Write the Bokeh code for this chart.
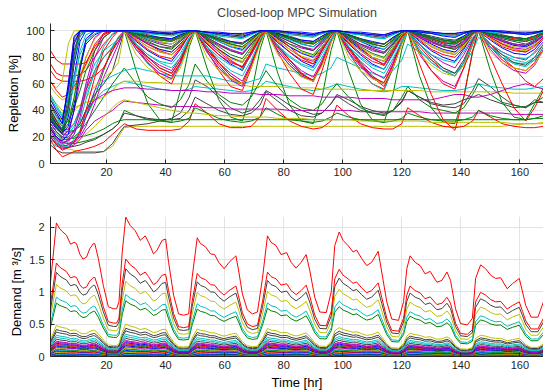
from bokeh.plotting import figure
from bokeh.layouts import column
from bokeh.models import Range1d, FixedTicker, CustomJSTickFormatter
from bokeh.embed import file_html
from bokeh.resources import INLINE

COL = {"b": "#0000ff", "g": "#008000", "r": "#ff0000", "c": "#00bfbf",
       "m": "#bf00bf", "y": "#bfbf00", "k": "#404040"}

# ---------------- Repletion (top panel) ----------------
knot_hours = [1, 3, 5, 7, 9, 11, 13, 16, 19, 22, 24,
              26, 30, 34, 38, 42, 45, 48,
              50, 54, 58, 62, 66, 69, 72,
              74, 78, 82, 86, 90, 93, 96,
              98, 102, 106, 110, 114, 117, 120,
              122, 126, 130, 134, 138, 141, 144,
              146, 150, 154, 158, 162, 165, 168]

rep_u1 = [45, 38, 30, 60, 95, 100, 100, 100, 100, 100, 100,
          100, 100, 99, 98, 98, 99, 100, 100, 99, 98, 97, 96, 98, 100,
          100, 100, 99, 98, 97, 99, 100, 100, 99, 98, 97, 96, 98, 100,
          100, 99, 98, 96, 95, 98, 100, 100, 100, 99, 98, 97, 98, 100]
rep_u2 = [40, 32, 26, 50, 92, 100, 100, 100, 100, 100, 100,
          100, 99, 97, 95, 94, 97, 100, 100, 98, 95, 92, 91, 95, 99,
          100, 98, 96, 93, 92, 96, 99, 100, 97, 94, 91, 90, 95, 99,
          100, 98, 96, 94, 93, 96, 100, 100, 99, 97, 95, 94, 96, 99]
rep_u3 = [36, 30, 24, 40, 75, 96, 100, 100, 100, 100, 100,
          100, 98, 96, 94, 93, 96, 100, 100, 96, 92, 88, 86, 92, 99,
          100, 97, 94, 90, 88, 93, 99, 100, 96, 92, 88, 86, 92, 98,
          100, 97, 94, 91, 90, 94, 99, 100, 98, 95, 93, 92, 94, 98]
rep_u4 = [50, 42, 35, 45, 65, 82, 92, 98, 100, 100, 100,
          100, 97, 94, 92, 90, 94, 99, 100, 96, 92, 88, 85, 91, 98,
          100, 97, 93, 90, 88, 93, 99, 100, 96, 92, 89, 86, 92, 98,
          100, 97, 94, 91, 89, 94, 99, 100, 97, 95, 93, 92, 94, 97]
rep_u5 = [61, 57, 62, 90, 100, 100, 100, 100, 100, 100, 100,
          100, 98, 95, 92, 90, 94, 99, 100, 97, 93, 89, 87, 92, 98,
          100, 98, 95, 92, 90, 94, 99, 100, 97, 94, 90, 88, 93, 98,
          100, 98, 95, 93, 91, 95, 99, 100, 98, 96, 94, 93, 95, 98]
rep_u6 = [32, 26, 22, 35, 65, 92, 100, 100, 100, 100, 100,
          100, 95, 90, 86, 84, 90, 98, 100, 93, 86, 80, 76, 86, 97,
          100, 94, 88, 83, 80, 88, 97, 100, 93, 86, 80, 77, 87, 97,
          100, 95, 90, 86, 84, 90, 98, 100, 96, 92, 89, 88, 91, 96]
rep_u7 = [85, 78, 75, 75, 75, 75, 76, 88, 97, 100, 100,
          100, 96, 90, 85, 82, 88, 97, 100, 94, 86, 78, 72, 82, 95,
          100, 95, 88, 80, 75, 85, 96, 100, 94, 87, 80, 74, 84, 95,
          100, 96, 92, 88, 86, 90, 97, 100, 95, 90, 86, 84, 88, 95]
rep_u8 = [38, 30, 25, 45, 85, 100, 100, 100, 100, 100, 100,
          100, 97, 93, 90, 88, 93, 99, 100, 95, 90, 85, 82, 90, 98,
          100, 96, 92, 88, 85, 92, 99, 100, 95, 90, 86, 83, 90, 98,
          100, 97, 93, 90, 88, 93, 99, 100, 97, 94, 92, 90, 93, 98]
rep_u9 = [34, 28, 24, 30, 50, 75, 92, 100, 100, 100, 100,
          100, 96, 92, 88, 86, 92, 99, 100, 94, 88, 82, 79, 88, 98,
          100, 95, 90, 85, 82, 90, 98, 100, 94, 88, 83, 80, 89, 98,
          100, 96, 92, 88, 86, 91, 98, 100, 96, 93, 90, 89, 92, 97]
rep_u10 = [30, 24, 20, 25, 40, 62, 80, 95, 100, 100, 100,
           100, 94, 88, 84, 82, 89, 98, 100, 92, 84, 77, 73, 84, 96,
           100, 93, 86, 80, 77, 87, 97, 100, 92, 85, 79, 75, 86, 96,
           100, 94, 88, 84, 82, 88, 97, 100, 95, 90, 87, 86, 89, 95]
rep_u11 = [48, 40, 33, 55, 90, 100, 100, 100, 100, 100, 100,
           100, 100, 100, 99, 99, 100, 100, 100, 99, 99, 98, 98, 99, 100,
           100, 100, 99, 99, 98, 99, 100, 100, 99, 99, 98, 97, 99, 100,
           100, 100, 99, 98, 98, 99, 100, 100, 100, 100, 99, 99, 99, 100]
rep_u12 = [42, 35, 28, 38, 60, 85, 97, 100, 100, 100, 100,
           100, 99, 98, 97, 96, 98, 100, 100, 98, 96, 95, 94, 97, 100,
           100, 99, 97, 96, 95, 98, 100, 100, 98, 97, 95, 94, 97, 100,
           100, 99, 98, 97, 96, 98, 100, 100, 99, 98, 98, 97, 98, 99]
rep_u13 = [62, 55, 50, 52, 58, 66, 75, 90, 98, 100, 100,
           100, 98, 95, 93, 92, 95, 99, 100, 97, 93, 90, 88, 93, 99,
           100, 98, 95, 92, 90, 94, 99, 100, 97, 93, 90, 88, 93, 99,
           100, 97, 94, 91, 90, 94, 99, 100, 98, 96, 94, 93, 95, 98]
rep_u14 = [44, 36, 30, 58, 96, 100, 100, 100, 100, 100, 100,
           100, 100, 99, 99, 98, 99, 100, 100, 99, 98, 98, 97, 99, 100,
           100, 99, 99, 98, 97, 99, 100, 100, 99, 98, 97, 97, 99, 100,
           100, 100, 99, 98, 98, 99, 100, 100, 100, 99, 99, 98, 99, 100]
rep_u15 = [45, 38, 32, 36, 48, 65, 80, 94, 100, 100, 100,
           100, 95, 90, 86, 84, 90, 98, 100, 93, 86, 80, 77, 86, 97,
           100, 94, 88, 84, 81, 88, 97, 100, 93, 87, 82, 79, 87, 97,
           100, 95, 89, 85, 83, 89, 98, 100, 95, 91, 88, 87, 90, 95]
rep_u16 = [26, 20, 17, 22, 40, 70, 94, 100, 100, 100, 100,
           100, 98, 96, 95, 94, 97, 100, 100, 97, 94, 92, 90, 95, 99,
           100, 98, 95, 93, 92, 96, 100, 100, 97, 94, 92, 90, 95, 99,
           100, 98, 95, 93, 92, 96, 100, 100, 98, 96, 95, 94, 96, 99]
rep_u17 = [24, 18, 15, 18, 25, 40, 60, 85, 98, 100, 100,
           100, 97, 94, 91, 90, 94, 99, 100, 95, 90, 86, 83, 90, 98,
           100, 96, 92, 88, 86, 92, 99, 100, 95, 90, 87, 84, 91, 98,
           100, 96, 92, 89, 88, 92, 98, 100, 96, 93, 90, 89, 92, 97]
rep_u18 = [22, 17, 14, 16, 22, 32, 48, 70, 88, 98, 100,
           100, 90, 82, 76, 72, 80, 94, 100, 88, 78, 70, 66, 78, 93,
           100, 89, 80, 74, 70, 80, 93, 100, 88, 79, 72, 68, 79, 92,
           100, 85, 76, 70, 66, 76, 90, 100, 88, 80, 75, 73, 78, 88]
rep_u19 = [40, 33, 28, 32, 42, 55, 70, 85, 95, 100, 100,
           100, 97, 95, 93, 92, 95, 99, 100, 96, 93, 90, 88, 93, 99,
           100, 97, 94, 91, 90, 94, 99, 100, 96, 93, 90, 88, 93, 99,
           100, 97, 94, 92, 91, 94, 99, 100, 97, 95, 93, 92, 94, 98]
rep_u20 = [52, 44, 36, 50, 80, 96, 100, 100, 100, 100, 100,
           100, 99, 98, 97, 97, 98, 100, 100, 98, 97, 96, 95, 97, 100,
           100, 99, 98, 96, 96, 98, 100, 100, 98, 97, 95, 94, 97, 100,
           100, 99, 98, 97, 96, 98, 100, 100, 99, 99, 98, 98, 99, 100]
rep_u21 = [26, 19, 16, 17, 22, 35, 55, 80, 95, 100, 100,
           100, 95, 91, 88, 87, 92, 99, 100, 94, 89, 85, 83, 90, 98,
           100, 95, 90, 87, 85, 91, 98, 100, 94, 89, 85, 83, 90, 98,
           100, 95, 91, 88, 87, 92, 98, 100, 96, 92, 90, 89, 92, 96]
rep_u22 = [20, 14, 10, 12, 16, 24, 40, 65, 85, 95, 100,
           100, 93, 86, 81, 79, 87, 97, 100, 91, 82, 76, 73, 84, 96,
           100, 92, 84, 78, 75, 86, 96, 100, 91, 83, 77, 74, 85, 96,
           100, 93, 86, 82, 80, 87, 97, 100, 94, 88, 85, 84, 88, 95]
rep_u23 = [36, 29, 24, 42, 78, 98, 100, 100, 100, 100, 100,
           100, 98, 96, 94, 93, 96, 99, 100, 97, 94, 91, 90, 94, 99,
           100, 97, 95, 92, 91, 95, 99, 100, 97, 94, 91, 90, 94, 99,
           100, 98, 95, 93, 92, 95, 99, 100, 98, 96, 95, 94, 96, 99]
rep_u24 = [58, 52, 48, 50, 56, 64, 74, 86, 95, 100, 100,
           100, 94, 88, 84, 82, 89, 98, 100, 92, 85, 79, 76, 86, 97,
           100, 93, 86, 81, 78, 88, 97, 100, 92, 85, 80, 77, 87, 97,
           100, 94, 88, 84, 82, 88, 97, 100, 94, 89, 86, 85, 88, 94]
rep_u25 = [34, 27, 22, 40, 82, 100, 100, 100, 100, 100, 100,
           100, 99, 98, 98, 97, 99, 100, 100, 99, 97, 96, 95, 98, 100,
           100, 99, 98, 97, 96, 98, 100, 100, 99, 97, 96, 95, 98, 100,
           100, 99, 98, 97, 97, 98, 100, 100, 100, 99, 98, 98, 99, 100]

rep_m1 = [28, 20, 16, 15, 17, 22, 35, 55, 72, 85, 92,
          100, 88, 80, 74, 70, 80, 94, 100, 86, 76, 68, 62, 76, 92,
          100, 88, 78, 70, 65, 78, 93, 100, 87, 77, 69, 64, 77, 92,
          100, 90, 82, 76, 72, 82, 94, 100, 90, 84, 80, 78, 84, 92]
rep_m2 = [40, 32, 25, 26, 30, 40, 55, 70, 80, 87, 92,
          100, 88, 76, 66, 60, 75, 93, 100, 85, 70, 58, 55, 72, 92,
          100, 84, 68, 56, 52, 70, 91, 100, 84, 70, 60, 56, 72, 91,
          100, 75, 52, 33, 25, 50, 85, 100, 80, 60, 42, 32, 42, 55]
rep_m3 = [35, 28, 22, 24, 30, 42, 58, 75, 85, 90, 94,
          100, 86, 75, 68, 64, 74, 92, 100, 84, 72, 64, 60, 73, 91,
          100, 85, 74, 66, 62, 75, 92, 100, 83, 70, 60, 55, 72, 90,
          100, 86, 76, 70, 68, 76, 90, 100, 88, 80, 76, 75, 78, 85]
rep_m4 = [30, 24, 19, 20, 24, 30, 40, 52, 60, 70, 85,
          100, 90, 80, 72, 68, 78, 93, 100, 88, 76, 66, 60, 74, 92,
          100, 89, 78, 68, 62, 76, 92, 100, 88, 76, 66, 60, 74, 91,
          100, 90, 80, 72, 68, 78, 93, 100, 90, 82, 76, 74, 80, 90]
rep_m5 = [50, 45, 40, 40, 42, 44, 46, 48, 50, 55, 60,
          62, 62, 61, 61, 60, 60, 60, 60, 60, 59, 59, 59, 58, 58,
          58, 58, 57, 57, 57, 56, 56, 56, 56, 55, 55, 55, 55, 55,
          55, 55, 54, 54, 54, 54, 54, 54, 54, 54, 53, 53, 53, 53]
rep_m6 = [22, 18, 15, 15, 16, 18, 22, 28, 35, 42, 46,
          48, 46, 44, 42, 40, 39, 38, 38, 37, 36, 36, 35, 35, 35,
          35, 34, 34, 34, 33, 33, 33, 33, 33, 32, 32, 32, 32, 32,
          32, 32, 31, 31, 31, 31, 31, 31, 31, 31, 30, 30, 30, 30]
rep_m7 = [35, 28, 22, 22, 25, 30, 40, 48, 52, 55, 56,
          57, 57, 56, 56, 55, 55, 55, 55, 54, 54, 53, 53, 53, 52,
          52, 52, 51, 51, 51, 50, 50, 50, 50, 49, 49, 49, 48, 48,
          48, 48, 48, 50, 52, 52, 50, 50, 52, 55, 58, 60, 58, 56]
rep_m8 = [18, 15, 13, 14, 18, 25, 38, 55, 62, 66, 68,
          70, 72, 70, 68, 66, 66, 66, 66, 66, 64, 62, 60, 62, 64,
          75, 72, 70, 68, 66, 68, 72, 80, 76, 72, 68, 65, 70, 78,
          90, 84, 78, 72, 68, 74, 85, 95, 88, 82, 78, 76, 80, 84]
rep_m9 = [38, 30, 25, 24, 25, 28, 35, 50, 70, 88, 95,
          100, 70, 45, 33, 31, 55, 88, 100, 72, 48, 35, 32, 52, 86,
          100, 68, 44, 32, 30, 50, 85, 100, 70, 45, 33, 31, 52, 86,
          100, 66, 42, 31, 30, 50, 84, 100, 70, 46, 35, 33, 45, 57]
rep_m10 = [28, 22, 18, 18, 20, 24, 30, 40, 50, 60, 66,
           72, 60, 50, 45, 42, 48, 60, 75, 62, 52, 46, 44, 50, 62,
           70, 58, 48, 42, 40, 45, 55, 60, 50, 42, 38, 36, 40, 50,
           58, 48, 42, 40, 38, 42, 52, 60, 52, 46, 44, 42, 46, 50]
rep_m11 = [70, 64, 62, 62, 62, 62, 63, 66, 72, 85, 95,
           100, 90, 80, 72, 68, 78, 94, 100, 88, 76, 66, 60, 74, 92,
           100, 89, 78, 68, 62, 76, 92, 100, 87, 75, 65, 58, 72, 91,
           100, 88, 78, 70, 66, 76, 92, 100, 90, 80, 72, 62, 58, 64]
rep_m12 = [33, 27, 23, 28, 45, 72, 90, 97, 100, 100, 100,
           100, 92, 85, 80, 77, 86, 97, 100, 90, 82, 75, 70, 83, 96,
           100, 91, 84, 77, 73, 85, 96, 100, 90, 82, 75, 71, 83, 96,
           100, 92, 85, 80, 77, 86, 97, 100, 93, 87, 83, 82, 86, 94]
rep_m13 = [22, 16, 13, 14, 16, 20, 28, 45, 65, 80, 90,
           100, 86, 76, 68, 64, 76, 93, 100, 84, 72, 63, 58, 74, 92,
           100, 85, 74, 66, 62, 75, 92, 100, 84, 73, 64, 60, 74, 92,
           100, 82, 70, 62, 58, 72, 90, 100, 86, 76, 70, 68, 74, 86]
rep_m14 = [30, 24, 20, 22, 28, 38, 52, 68, 80, 88, 94,
           100, 90, 82, 77, 75, 83, 95, 100, 88, 80, 74, 71, 82, 94,
           100, 89, 81, 75, 72, 83, 94, 100, 88, 80, 74, 71, 82, 94,
           100, 90, 82, 78, 76, 84, 95, 100, 90, 84, 80, 79, 83, 90]
rep_m15 = [75, 68, 66, 66, 66, 67, 70, 80, 90, 97, 100,
           100, 89, 78, 70, 66, 76, 93, 100, 86, 74, 64, 60, 74, 92,
           100, 87, 76, 67, 63, 76, 92, 100, 86, 74, 65, 61, 75, 92,
           100, 84, 70, 60, 56, 72, 90, 100, 88, 78, 72, 70, 76, 88]
rep_m16 = [48, 42, 38, 38, 40, 44, 50, 58, 64, 70, 76,
           100, 82, 72, 66, 63, 72, 90, 100, 80, 70, 64, 60, 72, 90,
           100, 82, 72, 65, 62, 74, 91, 100, 80, 70, 64, 60, 72, 90,
           100, 82, 74, 68, 66, 74, 90, 100, 84, 76, 72, 70, 75, 85]

rep_l1 = [21, 18, 14, 11, 10, 9, 9, 9, 9, 13, 20,
          27, 28, 28, 28, 28, 28, 28, 28, 28, 28, 28, 28, 28, 28,
          28, 28, 28, 28, 28, 28, 28, 28, 28, 28, 28, 28, 28, 28,
          28, 28, 28, 28, 28, 28, 28, 28, 28, 28, 29, 30, 30, 31]
rep_l2 = [30, 24, 20, 19, 19, 20, 21, 23, 26, 30, 32,
          33, 33, 33, 33, 33, 33, 33, 33, 33, 33, 33, 33, 33, 33,
          33, 33, 33, 33, 33, 33, 33, 33, 33, 33, 33, 33, 33, 33,
          33, 33, 33, 33, 33, 33, 33, 33, 33, 33, 33, 33, 34, 34]
rep_l3 = [14, 10, 8, 8, 8, 8, 8, 8, 9, 15, 22,
          28, 29, 30, 32, 34, 38, 50, 63, 58, 50, 42, 38, 40, 48,
          55, 50, 44, 40, 37, 38, 45, 52, 48, 43, 40, 38, 40, 46,
          55, 50, 45, 43, 42, 45, 55, 64, 58, 50, 44, 42, 48, 46]
rep_l4 = [18, 10, 5, 7, 9, 10, 11, 13, 16, 22, 26,
          30, 26, 25, 25, 25, 26, 32, 45, 38, 30, 27, 27, 28, 35,
          49, 40, 32, 28, 26, 27, 32, 44, 36, 30, 27, 26, 26, 30,
          42, 36, 31, 28, 27, 28, 32, 40, 35, 30, 28, 27, 27, 28]
rep_l5 = [26, 20, 16, 15, 15, 16, 17, 19, 22, 26, 30,
          40, 36, 33, 32, 31, 32, 34, 42, 38, 34, 32, 31, 32, 35,
          42, 37, 33, 32, 31, 32, 35, 38, 35, 33, 32, 31, 32, 34,
          38, 35, 33, 32, 32, 33, 35, 40, 36, 34, 33, 33, 34, 36]
rep_l6 = [20, 15, 12, 12, 13, 14, 16, 18, 22, 26, 30,
          38, 36, 34, 33, 33, 34, 40, 50, 45, 40, 37, 36, 38, 44,
          54, 47, 40, 36, 35, 38, 45, 51, 45, 40, 38, 37, 40, 47,
          55, 50, 46, 44, 45, 48, 50, 52, 48, 45, 42, 43, 46, 46]
rep_l7 = [16, 13, 12, 13, 16, 22, 35, 48, 55, 58, 60,
          62, 60, 58, 56, 55, 55, 56, 58, 57, 56, 55, 54, 55, 58,
          62, 60, 58, 56, 55, 56, 58, 60, 58, 56, 55, 54, 55, 58,
          58, 57, 56, 55, 55, 56, 58, 60, 58, 57, 56, 56, 57, 58]
rep_l8 = [20, 14, 11, 12, 14, 18, 25, 32, 36, 40, 44,
          47, 46, 45, 44, 43, 43, 43, 43, 42, 42, 41, 41, 41, 41,
          41, 41, 40, 40, 40, 40, 40, 40, 40, 39, 39, 39, 39, 39,
          39, 39, 38, 38, 38, 38, 38, 38, 38, 38, 37, 37, 37, 37]

repletion_series = [
    ("y", rep_l1), ("g", rep_l2), ("k", rep_l3), ("r", rep_l4), ("g", rep_l5),
    ("k", rep_l6), ("c", rep_l7), ("m", rep_l8),
    ("g", rep_m9), ("g", rep_m10), ("y", rep_m5), ("y", rep_m6), ("m", rep_m7),
    ("c", rep_m8), ("m", rep_m1), ("r", rep_m2), ("c", rep_m3), ("k", rep_m4),
    ("r", rep_m11), ("b", rep_m12), ("m", rep_m13), ("c", rep_m14),
    ("r", rep_m15), ("y", rep_m16),
    ("c", rep_u18), ("m", rep_u10), ("y", rep_u15), ("b", rep_u6), ("r", rep_u7),
    ("r", rep_u22), ("y", rep_u24), ("m", rep_u21),
    ("g", rep_u9), ("m", rep_u17), ("k", rep_u8), ("b", rep_u3), ("c", rep_u4),
    ("y", rep_u5), ("r", rep_u13), ("g", rep_u19), ("k", rep_u2), ("b", rep_u16),
    ("g", rep_u23), ("c", rep_u20), ("k", rep_u25),
    ("c", rep_u12), ("k", rep_u14), ("b", rep_u1), ("b", rep_u11),
]

# ---------------- Demand (bottom panel) ----------------
demand_hours = [1, 3, 4.1, 5.2, 6.4, 7.8, 9, 9.8, 10.9, 12, 13.2, 14.3, 15.5, 16,
                17.2, 18.9, 20.6, 22.3, 23.4, 24.2, 25.3, 26.5, 28, 29.7, 31.4,
                33.1, 34.2, 35.9, 37, 38.8, 40, 41, 42.7, 44.4, 46.1, 47.8, 49,
                50.7, 51.8, 53.5, 55.2, 56.6, 58, 59.8, 61.5, 63.8, 64.7, 66,
                67.7, 69.4, 71.1, 72.8, 74.5, 75.7, 77.4, 79.1, 81, 82.5, 84.2,
                85.9, 87.6, 88.8, 90.5, 92.2, 94.4, 96.1, 97.3, 98.8, 100.1,
                101.8, 103.5, 104.7, 106.4, 108.1, 109.8, 112, 113.2, 114.9,
                116.6, 118.9, 120.6, 121.7, 122.8, 124.5, 126.2, 127.9, 129.6,
                131.9, 133.6, 135.3, 136.5, 138.2, 139.9, 142.2, 143.9, 145,
                146.7, 148.4, 150.1, 151.8, 153.5, 155.7, 157.5, 159.8, 160.9,
                162, 163.8, 166.1, 168]
demand_largest = [1.15, 2.07, 1.98, 1.93, 1.88, 1.74, 1.77, 1.75, 1.59, 1.51, 1.54,
                  1.67, 1.75, 1.75, 1.52, 1.10, 0.77, 0.74, 0.74, 0.85, 1.62, 2.16,
                  2.03, 1.95, 1.80, 1.87, 1.77, 1.59, 1.64, 1.80, 1.82, 1.46, 0.95,
                  0.66, 0.64, 0.66, 1.23, 1.84, 1.75, 1.70, 1.59, 1.58, 1.46, 1.36,
                  1.46, 1.56, 1.34, 0.97, 0.72, 0.66, 0.69, 1.21, 1.87, 1.77, 1.72,
                  1.58, 1.61, 1.46, 1.37, 1.46, 1.58, 1.34, 0.92, 0.69, 0.68, 1.00,
                  1.72, 1.93, 1.80, 1.72, 1.62, 1.65, 1.52, 1.41, 1.46, 1.63, 1.31,
                  0.85, 0.58, 0.56, 0.85, 1.36, 1.56, 1.46, 1.41, 1.28, 1.32, 1.15,
                  1.18, 1.31, 1.18, 0.74, 0.51, 0.49, 0.59, 1.21, 1.42, 1.36, 1.26,
                  1.21, 1.22, 1.05, 1.13, 1.21, 1.00, 0.79, 0.61, 0.61, 0.85]
# relative size of each node's demand compared with the largest node
demand_ratio = [0.004, 0.008, 0.012, 0.017, 0.022, 0.027, 0.032, 0.038, 0.044,
                0.05, 0.056, 0.063, 0.07, 0.078, 0.085, 0.092, 0.10, 0.108,
                0.115, 0.13, 0.145, 0.16, 0.184, 0.203, 0.232, 0.40, 0.445,
                0.54, 0.63, 0.70, 1.00]
demand_colors = ["g", "b", "m", "c", "b", "g", "y", "r", "b", "c", "g", "y", "m",
                 "b", "g", "r", "b", "m", "m", "k", "c", "c", "k", "k", "y", "g",
                 "c", "y", "k", "r", "r"]

FONT = "Liberation Sans"
TXT = "#262626"


def style(p):
    p.outline_line_color = None
    p.background_fill_color = "white"
    p.border_fill_color = "white"
    for ax in (p.xaxis[0], p.yaxis[0]):
        ax.axis_line_color = TXT
        ax.major_tick_line_color = TXT
        ax.major_tick_in = 4
        ax.major_tick_out = 0
        ax.minor_tick_line_color = None
        ax.major_label_text_font = FONT
        ax.major_label_text_font_size = "11px"
        ax.major_label_text_color = TXT
        ax.axis_label_text_font = FONT
        ax.axis_label_text_font_size = "13px"
        ax.axis_label_text_font_style = "normal"
        ax.axis_label_text_color = "#000000"
    p.xaxis[0].major_label_standoff = 4
    p.xaxis[0].axis_label_standoff = 3
    p.yaxis[0].major_label_standoff = 6
    p.yaxis[0].axis_label_standoff = 2
    p.grid.grid_line_color = "#e3e3e3"
    p.grid.grid_line_width = 1
    p.xaxis[0].ticker = FixedTicker(ticks=[20, 40, 60, 80, 100, 120, 140, 160])


p1 = figure(width=543, height=190, output_backend="svg", toolbar_location=None,
            x_range=Range1d(1, 168), y_range=Range1d(0, 105.5),
            min_border_left=50, min_border_right=0, min_border_top=23,
            min_border_bottom=27, title="Closed-loop MPC Simulation")
p1.title.text_font = FONT
p1.title.text_font_size = "12.5px"
p1.title.text_font_style = "normal"
p1.title.align = "center"
p1.title.standoff = 7
style(p1)
p1.yaxis[0].ticker = FixedTicker(ticks=[0, 20, 40, 60, 80, 100])
p1.yaxis[0].axis_label = "Repletion [%]"

p1.multi_line(xs=[knot_hours] * len(repletion_series),
              ys=[s for _, s in repletion_series],
              line_color=[COL[c] for c, _ in repletion_series], line_width=1)

p2 = figure(width=543, height=202, output_backend="svg", toolbar_location=None,
            x_range=Range1d(1, 168), y_range=Range1d(0, 2.17),
            min_border_left=50, min_border_right=0, min_border_top=26,
            min_border_bottom=35)
style(p2)
p2.yaxis[0].ticker = FixedTicker(ticks=[0, 0.5, 1, 1.5, 2])
p2.yaxis[0].formatter = CustomJSTickFormatter(code="return String(tick)")
p2.yaxis[0].axis_label = "Demand [m    \u00b3/s]"
p2.xaxis[0].axis_label = "Time [hr]"

demand_ys = [[v * r for v in demand_largest] for r in demand_ratio]
p2.multi_line(xs=[demand_hours] * len(demand_ratio), ys=demand_ys,
              line_color=[COL[c] for c in demand_colors], line_width=1)

layout = column(p1, p2, spacing=0)
open("out.html", "w").write(file_html(layout, INLINE))
